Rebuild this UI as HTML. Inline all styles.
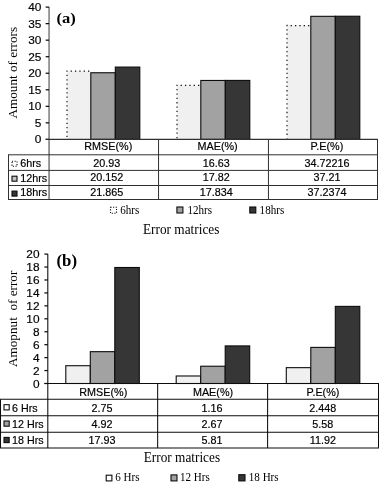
<!DOCTYPE html>
<html><head><meta charset="utf-8"><title>Error matrices</title>
<style>
html,body{margin:0;padding:0;background:#fff}
svg{display:block}
.s{font-family:"Liberation Sans",sans-serif;fill:#000;stroke:#000;stroke-width:.18px}
.t{font-family:"Liberation Serif",serif;fill:#000}
</style></head><body>
<svg width="380" height="484" viewBox="0 0 380 484">
<rect width="380" height="484" fill="#fff"/>
<rect x="67" y="71.17" width="23.8" height="68.23" fill="#f0f0f0"/>
<path d="M67 70.47V138.6M70.6 71.17H90.4" fill="none" stroke="#0c0c0c" stroke-width="1.15" stroke-dasharray="1.3 3.05"/>
<rect x="90.8" y="72.75" width="24.5" height="66.65" fill="#a2a2a2" stroke="#0c0c0c" stroke-width="1.1"/>
<rect x="115.3" y="67.08" width="24.5" height="72.32" fill="#363636" stroke="#0c0c0c" stroke-width="1.1"/>
<rect x="177" y="85.4" width="23.8" height="54" fill="#f0f0f0"/>
<path d="M177 84.7V138.6M180.6 85.4H200.4" fill="none" stroke="#0c0c0c" stroke-width="1.15" stroke-dasharray="1.3 3.05"/>
<rect x="200.8" y="80.46" width="24.5" height="58.94" fill="#a2a2a2" stroke="#0c0c0c" stroke-width="1.1"/>
<rect x="225.3" y="80.41" width="24.5" height="58.99" fill="#363636" stroke="#0c0c0c" stroke-width="1.1"/>
<rect x="287" y="25.56" width="23.8" height="113.84" fill="#f0f0f0"/>
<path d="M287 24.86V138.6M290.6 25.56H310.4" fill="none" stroke="#0c0c0c" stroke-width="1.15" stroke-dasharray="1.3 3.05"/>
<rect x="310.8" y="16.33" width="24.5" height="123.07" fill="#a2a2a2" stroke="#0c0c0c" stroke-width="1.1"/>
<rect x="335.3" y="16.24" width="24.5" height="123.16" fill="#363636" stroke="#0c0c0c" stroke-width="1.1"/>
<path d="M49.05 7.1V139.4" stroke="#4a4a4a" stroke-width="1.1" fill="none"/>
<path d="M45.65 139.4H49.05" stroke="#0c0c0c" stroke-width="1.25" fill="none"/>
<text class="s" transform="translate(41.45 143.45) scale(0.99 0.895)" font-size="12" text-anchor="end">0</text>
<path d="M45.65 122.86H49.05" stroke="#0c0c0c" stroke-width="1.25" fill="none"/>
<text class="s" transform="translate(41.45 126.91) scale(0.99 0.895)" font-size="12" text-anchor="end">5</text>
<path d="M45.65 106.33H49.05" stroke="#0c0c0c" stroke-width="1.25" fill="none"/>
<text class="s" transform="translate(41.45 110.38) scale(0.99 0.895)" font-size="12" text-anchor="end">10</text>
<path d="M45.65 89.79H49.05" stroke="#0c0c0c" stroke-width="1.25" fill="none"/>
<text class="s" transform="translate(41.45 93.84) scale(0.99 0.895)" font-size="12" text-anchor="end">15</text>
<path d="M45.65 73.25H49.05" stroke="#0c0c0c" stroke-width="1.25" fill="none"/>
<text class="s" transform="translate(41.45 77.3) scale(0.99 0.895)" font-size="12" text-anchor="end">20</text>
<path d="M45.65 56.71H49.05" stroke="#0c0c0c" stroke-width="1.25" fill="none"/>
<text class="s" transform="translate(41.45 60.76) scale(0.99 0.895)" font-size="12" text-anchor="end">25</text>
<path d="M45.65 40.17H49.05" stroke="#0c0c0c" stroke-width="1.25" fill="none"/>
<text class="s" transform="translate(41.45 44.22) scale(0.99 0.895)" font-size="12" text-anchor="end">30</text>
<path d="M45.65 23.64H49.05" stroke="#0c0c0c" stroke-width="1.25" fill="none"/>
<text class="s" transform="translate(41.45 27.69) scale(0.99 0.895)" font-size="12" text-anchor="end">35</text>
<path d="M45.65 7.1H49.05" stroke="#0c0c0c" stroke-width="1.25" fill="none"/>
<text class="s" transform="translate(41.45 11.15) scale(0.99 0.895)" font-size="12" text-anchor="end">40</text>
<path d="M45.65 139.4H378" stroke="#303030" stroke-width="1.1" fill="none"/>
<path d="M8 154.8H378" stroke="#303030" stroke-width="1.0" fill="none"/>
<path d="M8 170.4H378" stroke="#303030" stroke-width="1.0" fill="none"/>
<path d="M8 185.5H378" stroke="#303030" stroke-width="1.0" fill="none"/>
<path d="M8 199.5H378" stroke="#303030" stroke-width="1.0" fill="none"/>
<path d="M8.5 154.8V199.5" stroke="#303030" stroke-width="1.0" fill="none"/>
<path d="M49.05 139.4V199.5" stroke="#303030" stroke-width="1.0" fill="none"/>
<path d="M158.55 139.4V199.5" stroke="#303030" stroke-width="1.0" fill="none"/>
<path d="M268.45 139.4V199.5" stroke="#303030" stroke-width="1.0" fill="none"/>
<path d="M377.5 139.4V199.5" stroke="#303030" stroke-width="1.0" fill="none"/>
<text class="s" transform="translate(108.3 150.3) scale(1.0 0.94)" font-size="10.8" text-anchor="middle">RMSE(%)</text>
<text class="s" transform="translate(217.6 150.3) scale(1.0 0.94)" font-size="10.8" text-anchor="middle">MAE(%)</text>
<text class="s" transform="translate(326.9 150.3) scale(1.0 0.94)" font-size="10.8" text-anchor="middle">P.E(%)</text>
<text class="s" transform="translate(106.8 166.5) scale(1.0 0.94)" font-size="10.8" text-anchor="middle">20.93</text>
<text class="s" transform="translate(216.3 166.5) scale(1.0 0.94)" font-size="10.8" text-anchor="middle">16.63</text>
<text class="s" transform="translate(327.1 166.5) scale(1.0 0.94)" font-size="10.8" text-anchor="middle">34.72216</text>
<text class="s" transform="translate(106.8 181.4) scale(1.0 0.94)" font-size="10.8" text-anchor="middle">20.152</text>
<text class="s" transform="translate(216.3 181.4) scale(1.0 0.94)" font-size="10.8" text-anchor="middle">17.82</text>
<text class="s" transform="translate(327.1 181.4) scale(1.0 0.94)" font-size="10.8" text-anchor="middle">37.21</text>
<text class="s" transform="translate(106.8 196.3) scale(1.0 0.94)" font-size="10.8" text-anchor="middle">21.865</text>
<text class="s" transform="translate(216.3 196.3) scale(1.0 0.94)" font-size="10.8" text-anchor="middle">17.834</text>
<text class="s" transform="translate(327.1 196.3) scale(1.0 0.94)" font-size="10.8" text-anchor="middle">37.2374</text>
<rect x="12" y="161.3" width="5" height="5" fill="#fff" stroke="#0c0c0c" stroke-width="1.1" stroke-dasharray="1.1 1.5"/>
<text class="s" transform="translate(20.2 166.6) scale(1.0 0.94)" font-size="10.8" text-anchor="start">6hrs</text>
<rect x="12" y="176.2" width="5" height="5" fill="#c4c4c4" stroke="#0c0c0c" stroke-width="1.1"/>
<text class="s" transform="translate(20.2 181.5) scale(1.0 0.94)" font-size="10.8" text-anchor="start">12hrs</text>
<rect x="12" y="191.1" width="5" height="5" fill="#363636" stroke="#0c0c0c" stroke-width="1.1"/>
<text class="s" transform="translate(20.2 196.4) scale(1.0 0.94)" font-size="10.8" text-anchor="start">18hrs</text>
<rect x="110.5" y="207.2" width="6" height="6" fill="#fff" stroke="#0c0c0c" stroke-width="1.1" stroke-dasharray="1.1 1.5"/>
<text class="t" transform="translate(120.3 214) scale(0.955 1.0)" font-size="11.6" text-anchor="start">6hrs</text>
<rect x="176.9" y="207" width="6" height="6" fill="#a2a2a2" stroke="#0c0c0c" stroke-width="1.1"/>
<text class="t" transform="translate(187.4 214) scale(0.955 1.0)" font-size="11.6" text-anchor="start">12hrs</text>
<rect x="249.8" y="207" width="6" height="6" fill="#363636" stroke="#0c0c0c" stroke-width="1.1"/>
<text class="t" transform="translate(259.6 214) scale(0.955 1.0)" font-size="11.6" text-anchor="start">18hrs</text>
<text class="t" transform="translate(143 234) scale(0.95 1.0)" font-size="14" text-anchor="start">Error matrices</text>
<text class="t" transform="translate(16.7 118.5) rotate(-90)" font-size="13.2">Amount of errors</text>
<text class="t" transform="translate(56.5 22.9) scale(1.06 1.0)" font-size="15.6" text-anchor="start" font-weight="bold">(a)</text>
<rect x="65.8" y="365.71" width="24.5" height="17.79" fill="#f0f0f0" stroke="#0c0c0c" stroke-width="1.1"/>
<rect x="90.3" y="351.67" width="24.5" height="31.83" fill="#a2a2a2" stroke="#0c0c0c" stroke-width="1.1"/>
<rect x="114.8" y="267.49" width="24.5" height="116.01" fill="#363636" stroke="#0c0c0c" stroke-width="1.1"/>
<rect x="176.2" y="375.99" width="24.5" height="7.51" fill="#f0f0f0" stroke="#0c0c0c" stroke-width="1.1"/>
<rect x="200.7" y="366.23" width="24.5" height="17.27" fill="#a2a2a2" stroke="#0c0c0c" stroke-width="1.1"/>
<rect x="225.2" y="345.91" width="24.5" height="37.59" fill="#363636" stroke="#0c0c0c" stroke-width="1.1"/>
<rect x="286.3" y="367.66" width="24.5" height="15.84" fill="#f0f0f0" stroke="#0c0c0c" stroke-width="1.1"/>
<rect x="310.8" y="347.4" width="24.5" height="36.1" fill="#a2a2a2" stroke="#0c0c0c" stroke-width="1.1"/>
<rect x="335.3" y="306.38" width="24.5" height="77.12" fill="#363636" stroke="#0c0c0c" stroke-width="1.1"/>
<path d="M47.8 254.1V383.5" stroke="#111" stroke-width="1.1" fill="none"/>
<path d="M44.4 383.5H47.8" stroke="#0c0c0c" stroke-width="1.25" fill="none"/>
<text class="s" transform="translate(39.5 387.55) scale(0.99 0.895)" font-size="12" text-anchor="end">0</text>
<path d="M44.4 370.56H47.8" stroke="#0c0c0c" stroke-width="1.25" fill="none"/>
<text class="s" transform="translate(39.5 374.61) scale(0.99 0.895)" font-size="12" text-anchor="end">2</text>
<path d="M44.4 357.62H47.8" stroke="#0c0c0c" stroke-width="1.25" fill="none"/>
<text class="s" transform="translate(39.5 361.67) scale(0.99 0.895)" font-size="12" text-anchor="end">4</text>
<path d="M44.4 344.68H47.8" stroke="#0c0c0c" stroke-width="1.25" fill="none"/>
<text class="s" transform="translate(39.5 348.73) scale(0.99 0.895)" font-size="12" text-anchor="end">6</text>
<path d="M44.4 331.74H47.8" stroke="#0c0c0c" stroke-width="1.25" fill="none"/>
<text class="s" transform="translate(39.5 335.79) scale(0.99 0.895)" font-size="12" text-anchor="end">8</text>
<path d="M44.4 318.8H47.8" stroke="#0c0c0c" stroke-width="1.25" fill="none"/>
<text class="s" transform="translate(39.5 322.85) scale(0.99 0.895)" font-size="12" text-anchor="end">10</text>
<path d="M44.4 305.86H47.8" stroke="#0c0c0c" stroke-width="1.25" fill="none"/>
<text class="s" transform="translate(39.5 309.91) scale(0.99 0.895)" font-size="12" text-anchor="end">12</text>
<path d="M44.4 292.92H47.8" stroke="#0c0c0c" stroke-width="1.25" fill="none"/>
<text class="s" transform="translate(39.5 296.97) scale(0.99 0.895)" font-size="12" text-anchor="end">14</text>
<path d="M44.4 279.98H47.8" stroke="#0c0c0c" stroke-width="1.25" fill="none"/>
<text class="s" transform="translate(39.5 284.03) scale(0.99 0.895)" font-size="12" text-anchor="end">16</text>
<path d="M44.4 267.04H47.8" stroke="#0c0c0c" stroke-width="1.25" fill="none"/>
<text class="s" transform="translate(39.5 271.09) scale(0.99 0.895)" font-size="12" text-anchor="end">18</text>
<path d="M44.4 254.1H47.8" stroke="#0c0c0c" stroke-width="1.25" fill="none"/>
<text class="s" transform="translate(39.5 258.15) scale(0.99 0.895)" font-size="12" text-anchor="end">20</text>
<path d="M44.4 383.5H379" stroke="#0c0c0c" stroke-width="1.1" fill="none"/>
<path d="M0 399.3H379" stroke="#0c0c0c" stroke-width="1.05" fill="none"/>
<path d="M0 415.7H379" stroke="#0c0c0c" stroke-width="1.05" fill="none"/>
<path d="M0 432.3H379" stroke="#0c0c0c" stroke-width="1.05" fill="none"/>
<path d="M0 447.9H379" stroke="#0c0c0c" stroke-width="1.05" fill="none"/>
<path d="M0.5 399.3V447.9" stroke="#0c0c0c" stroke-width="1.05" fill="none"/>
<path d="M47.8 383.5V447.9" stroke="#0c0c0c" stroke-width="1.05" fill="none"/>
<path d="M157.65 383.5V447.9" stroke="#0c0c0c" stroke-width="1.05" fill="none"/>
<path d="M267.6 383.5V447.9" stroke="#0c0c0c" stroke-width="1.05" fill="none"/>
<path d="M378.5 383.5V447.9" stroke="#0c0c0c" stroke-width="1.05" fill="none"/>
<text class="s" transform="translate(103.3 396.1) scale(1.0 0.94)" font-size="10.8" text-anchor="middle">RMSE(%)</text>
<text class="s" transform="translate(213 396.1) scale(1.0 0.94)" font-size="10.8" text-anchor="middle">MAE(%)</text>
<text class="s" transform="translate(323 396.1) scale(1.0 0.94)" font-size="10.8" text-anchor="middle">P.E(%)</text>
<text class="s" transform="translate(102.1 411.5) scale(1.0 0.94)" font-size="10.8" text-anchor="middle">2.75</text>
<text class="s" transform="translate(212 411.5) scale(1.0 0.94)" font-size="10.8" text-anchor="middle">1.16</text>
<text class="s" transform="translate(322.8 411.5) scale(1.0 0.94)" font-size="10.8" text-anchor="middle">2.448</text>
<text class="s" transform="translate(102.1 427.8) scale(1.0 0.94)" font-size="10.8" text-anchor="middle">4.92</text>
<text class="s" transform="translate(212 427.8) scale(1.0 0.94)" font-size="10.8" text-anchor="middle">2.67</text>
<text class="s" transform="translate(322.8 427.8) scale(1.0 0.94)" font-size="10.8" text-anchor="middle">5.58</text>
<text class="s" transform="translate(102.1 444.2) scale(1.0 0.94)" font-size="10.8" text-anchor="middle">17.93</text>
<text class="s" transform="translate(212 444.2) scale(1.0 0.94)" font-size="10.8" text-anchor="middle">5.81</text>
<text class="s" transform="translate(322.8 444.2) scale(1.0 0.94)" font-size="10.8" text-anchor="middle">11.92</text>
<rect x="4" y="404.7" width="5.2" height="5.2" fill="#fff" stroke="#0c0c0c" stroke-width="1.1"/>
<text class="s" transform="translate(12.1 411.5) scale(1.0 0.94)" font-size="10.7" text-anchor="start">6 Hrs</text>
<rect x="4" y="421" width="5.2" height="5.2" fill="#a2a2a2" stroke="#0c0c0c" stroke-width="1.1"/>
<text class="s" transform="translate(12.1 427.8) scale(1.0 0.94)" font-size="10.7" text-anchor="start">12 Hrs</text>
<rect x="4" y="437.4" width="5.2" height="5.2" fill="#363636" stroke="#0c0c0c" stroke-width="1.1"/>
<text class="s" transform="translate(12.1 444.2) scale(1.0 0.94)" font-size="10.7" text-anchor="start">18 Hrs</text>
<rect x="106.2" y="475.2" width="5.7" height="5.7" fill="#fff" stroke="#0c0c0c" stroke-width="1.1"/>
<text class="t" transform="translate(115.2 481.1) scale(0.955 1.0)" font-size="11.6" text-anchor="start">6 Hrs</text>
<rect x="171" y="474.9" width="6" height="6" fill="#a2a2a2" stroke="#0c0c0c" stroke-width="1.1"/>
<text class="t" transform="translate(180 481.1) scale(0.955 1.0)" font-size="11.6" text-anchor="start">12 Hrs</text>
<rect x="238.8" y="474.7" width="6.2" height="6.2" fill="#363636" stroke="#0c0c0c" stroke-width="1.1"/>
<text class="t" transform="translate(248.8 481.1) scale(0.955 1.0)" font-size="11.6" text-anchor="start">18 Hrs</text>
<text class="t" transform="translate(143.7 461.7) scale(0.95 1.0)" font-size="14" text-anchor="start">Error matrices</text>
<text class="t" transform="translate(17.2 367) rotate(-90)" font-size="13.2">Amopnut&#160;&#160;of error</text>
<text class="t" transform="translate(56.5 266.4) scale(1.04 1.0)" font-size="16.2" text-anchor="start" font-weight="bold">(b)</text>
</svg>
</body></html>
